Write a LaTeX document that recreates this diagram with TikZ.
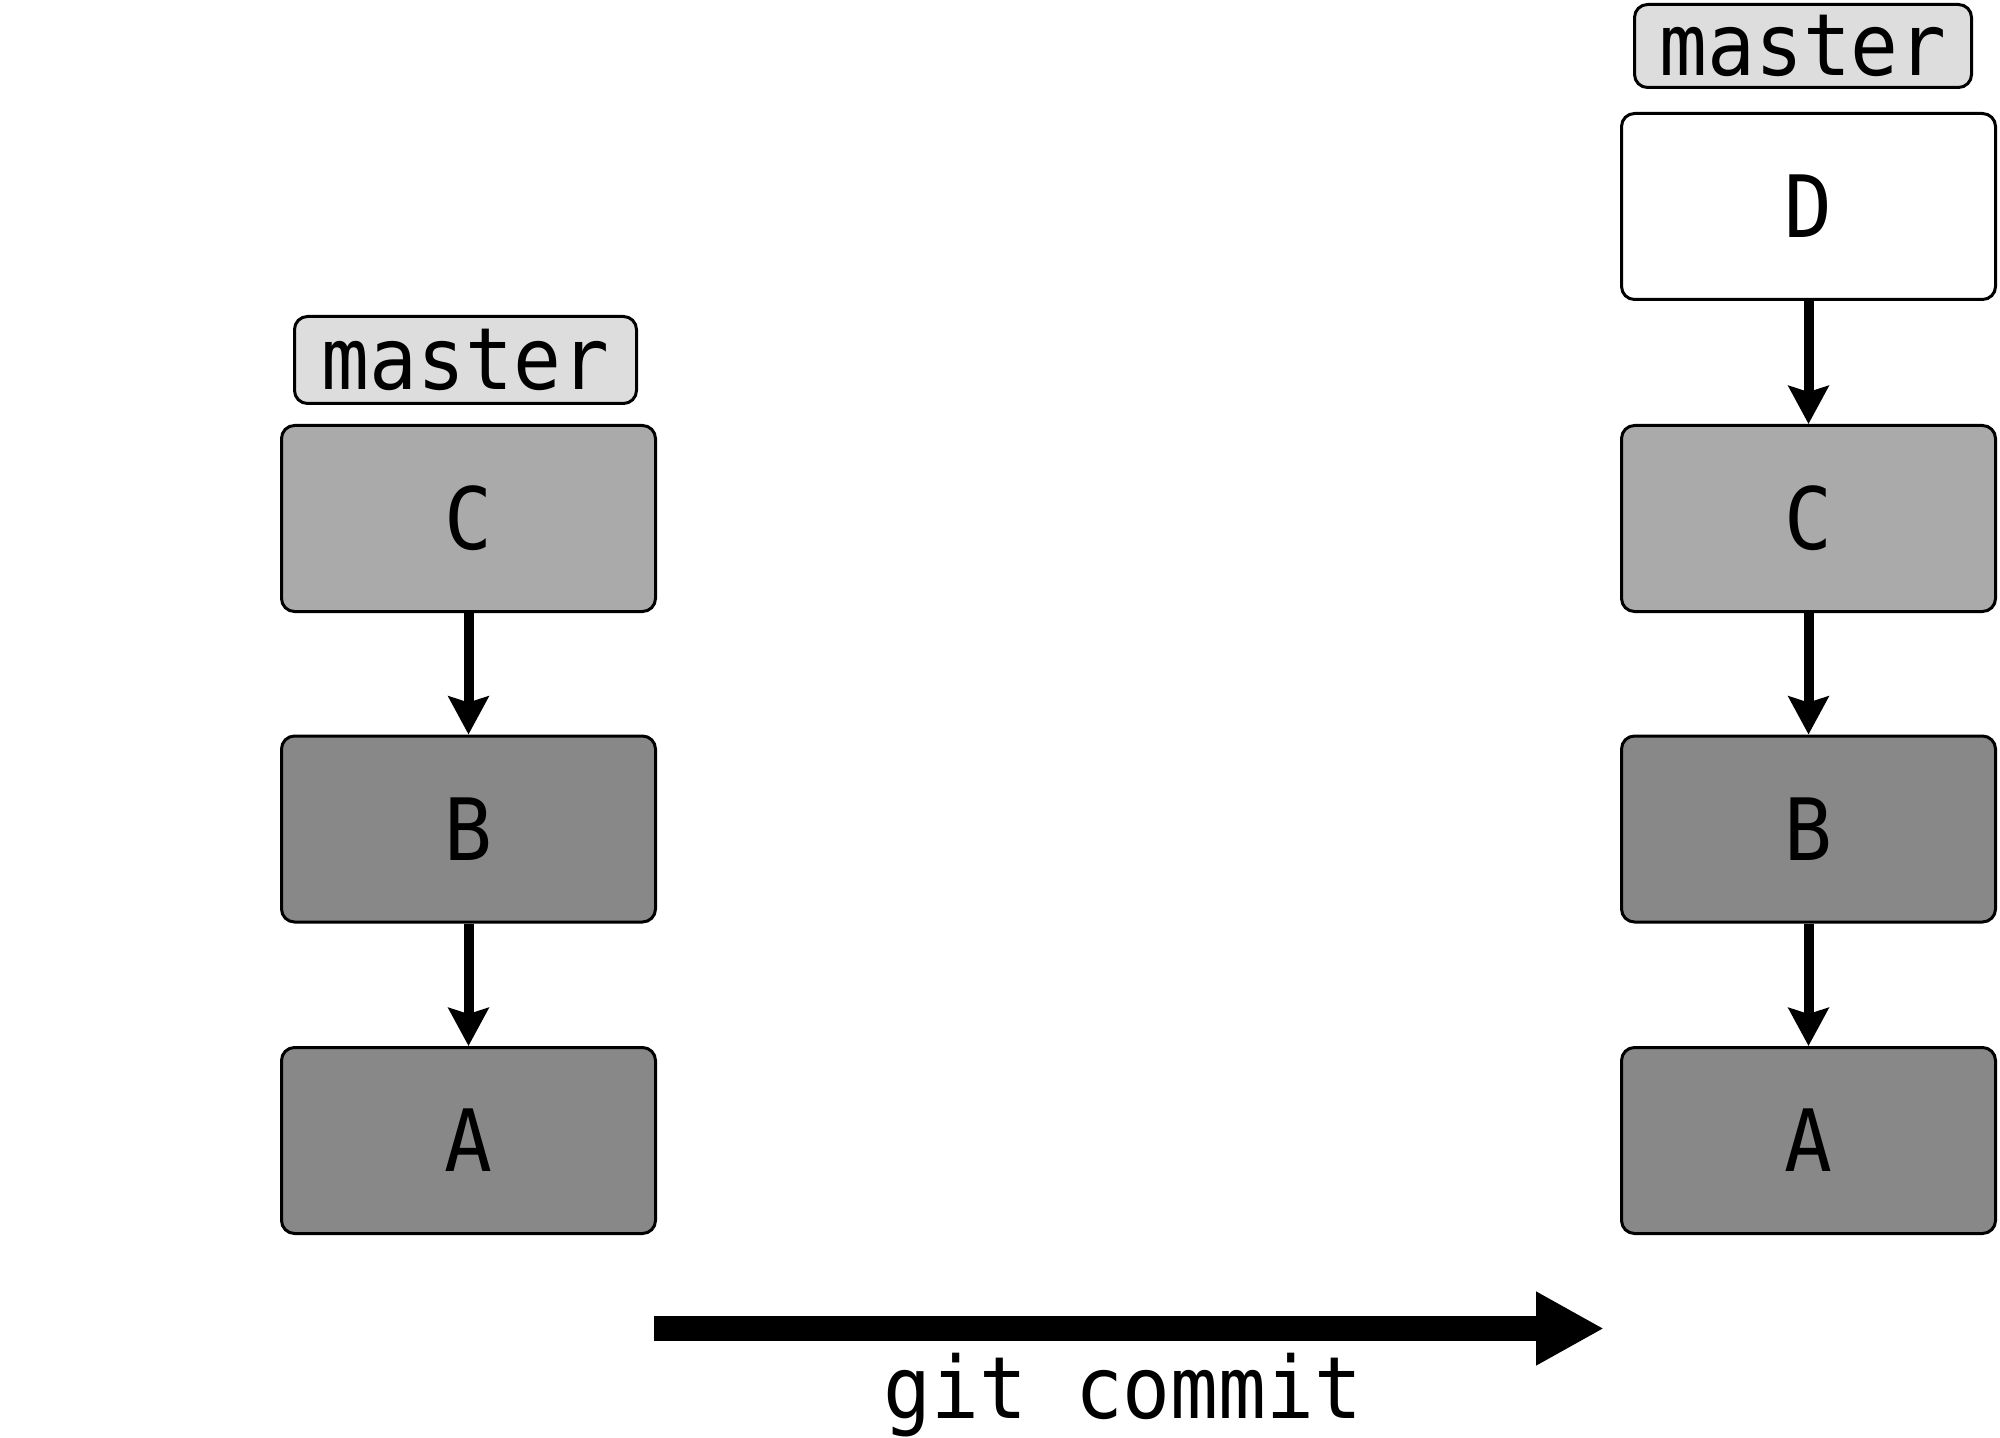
\documentclass[tikz,border=0pt]{standalone}
\usepackage{fontspec}
\newfontfamily\dmono{DejaVu Sans Mono}[FakeStretch=0.925]
\usetikzlibrary{arrows.meta}
\definecolor{tagfill}{HTML}{DDDDDD}
\definecolor{cfill}{HTML}{AAAAAA}
\definecolor{bfill}{HTML}{888888}
\tikzset{
  commitbox/.style={draw=black, line width=1.5pt, rounded corners=6.5pt,
    minimum width=187pt, minimum height=93pt, inner sep=0pt,
    font=\dmono\fontsize{43}{50}\selectfont},
  tagbox/.style={draw=black, line width=1.5pt, rounded corners=6.5pt, fill=tagfill,
    minimum width=171pt, minimum height=43.5pt, inner sep=0pt,
    font=\dmono\fontsize{43}{50}\selectfont},
  parentarrow/.style={line width=5pt, -{Stealth[length=19pt,width=20pt,inset=3pt]}},
  bigarrow/.style={line width=12.5pt, -{Triangle[length=34pt,width=34.5pt]}},
}
\begin{document}
\begin{tikzpicture}[x=0.5pt,y=-0.5pt]
\fill[white] (0,0) rectangle (2000,1438);
\useasboundingbox (0,0) rectangle (2000,1438);
% left column
\node[tagbox] (tagL) at (465.5,360) {master};
\node[commitbox, fill=cfill] (C1) at (468.5,518.5) {C};
\node[commitbox, fill=bfill] (B1) at (468.5,829) {B};
\node[commitbox, fill=bfill] (A1) at (468.5,1140.5) {A};
% right column
\node[tagbox, minimum width=168.5pt, minimum height=41.5pt] (tagR) at (1803,46) {master};
\node[commitbox, fill=white] (D2) at (1808.5,206.5) {D};
\node[commitbox, fill=cfill] (C2) at (1808.5,518.5) {C};
\node[commitbox, fill=bfill] (B2) at (1808.5,829) {B};
\node[commitbox, fill=bfill] (A2) at (1808.5,1140.5) {A};
% parent arrows
\draw[parentarrow] (C1.south) -- (B1.north);
\draw[parentarrow] (B1.south) -- (A1.north);
\draw[parentarrow] (D2.south) -- (C2.north);
\draw[parentarrow] (C2.south) -- (B2.north);
\draw[parentarrow] (B2.south) -- (A2.north);
% git commit arrow
\coordinate (gs) at (654,1328.5);
\coordinate (ge) at (1604,1328.5);
\draw[bigarrow] (gs) -- (ge);
\node[anchor=base, inner sep=0pt, font=\dmono\fontsize{43}{50}\selectfont] (gitlabel) at (1123,1418) {git commit};
\end{tikzpicture}
\end{document}
